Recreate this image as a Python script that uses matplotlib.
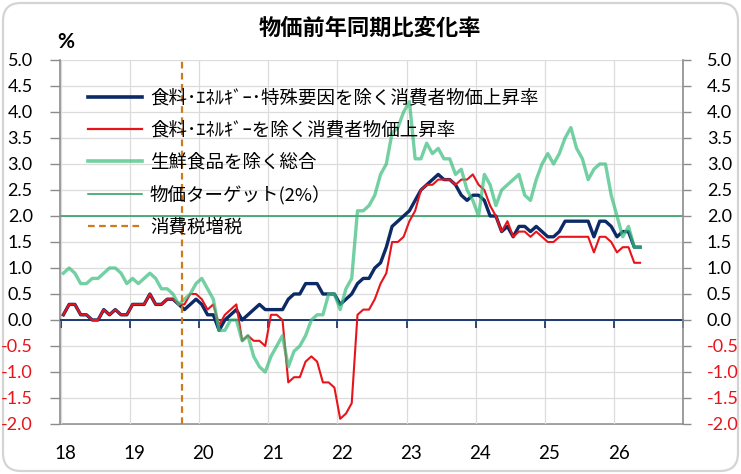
import numpy as np
import matplotlib
matplotlib.use('Agg')
import matplotlib.pyplot as plt
from matplotlib.patches import FancyBboxPatch
from matplotlib.lines import Line2D
import matplotlib.transforms as mtransforms

plt.rcParams['font.family'] = ['Noto Sans CJK JP', 'DejaVu Sans']

# ---------------- data (monthly, Jan 2018 - May 2026, y/y %) ----------------
start_year = 2018
ex_food_energy_special = [
    0.1, 0.3, 0.3, 0.1, 0.1, 0.0, 0.0, 0.2, 0.1, 0.2, 0.1, 0.1,
    0.3, 0.3, 0.3, 0.5, 0.3, 0.3, 0.4, 0.4, 0.3, 0.2, 0.3, 0.4,
    0.3, 0.1, 0.1, -0.2, 0.0, 0.1, 0.2, 0.0, 0.1, 0.2, 0.3, 0.2,
    0.2, 0.2, 0.2, 0.4, 0.5, 0.5, 0.7, 0.7, 0.7, 0.5, 0.5, 0.5,
    0.3, 0.4, 0.5, 0.7, 0.8, 0.8, 1.0, 1.1, 1.4, 1.8, 1.9, 2.0,
    2.1, 2.3, 2.5, 2.6, 2.7, 2.8, 2.7, 2.7, 2.6, 2.4, 2.3, 2.4,
    2.4, 2.3, 2.0, 2.0, 1.7, 1.8, 1.6, 1.8, 1.8, 1.7, 1.8, 1.7,
    1.6, 1.6, 1.7, 1.9, 1.9, 1.9, 1.9, 1.9, 1.6, 1.9, 1.9, 1.8,
    1.6, 1.7, 1.7, 1.4, 1.4,
]
ex_food_energy = [
    0.1, 0.3, 0.3, 0.1, 0.1, 0.0, 0.0, 0.2, 0.1, 0.2, 0.1, 0.1,
    0.3, 0.3, 0.3, 0.5, 0.3, 0.3, 0.4, 0.4, 0.3, 0.3, 0.5, 0.5,
    0.4, 0.2, 0.3, -0.1, 0.1, 0.2, 0.3, -0.4, -0.3, -0.4, -0.4, -0.5,
    0.1, 0.1, 0.0, -1.2, -1.1, -1.1, -0.8, -0.7, -0.8, -1.2, -1.2, -1.3,
    -1.9, -1.8, -1.6, 0.1, 0.2, 0.2, 0.4, 0.7, 0.9, 1.5, 1.5, 1.6,
    1.9, 2.1, 2.5, 2.6, 2.6, 2.7, 2.7, 2.7, 2.6, 2.7, 2.7, 2.8,
    2.6, 2.5, 2.2, 2.0, 1.7, 1.9, 1.6, 1.7, 1.7, 1.6, 1.7, 1.6,
    1.5, 1.5, 1.6, 1.6, 1.6, 1.6, 1.6, 1.6, 1.3, 1.6, 1.6, 1.5,
    1.3, 1.4, 1.4, 1.1, 1.1,
]
ex_fresh_food = [
    0.9, 1.0, 0.9, 0.7, 0.7, 0.8, 0.8, 0.9, 1.0, 1.0, 0.9, 0.7,
    0.8, 0.7, 0.8, 0.9, 0.8, 0.6, 0.6, 0.5, 0.3, 0.4, 0.5, 0.7,
    0.8, 0.6, 0.4, -0.2, -0.2, 0.0, 0.0, -0.4, -0.3, -0.7, -0.9, -1.0,
    -0.7, -0.5, -0.3, -0.9, -0.6, -0.5, -0.3, 0.0, 0.1, 0.1, 0.5, 0.5,
    0.2, 0.6, 0.8, 2.1, 2.1, 2.2, 2.4, 2.8, 3.0, 3.6, 3.7, 4.0,
    4.2, 3.1, 3.1, 3.4, 3.2, 3.3, 3.1, 3.1, 2.8, 2.9, 2.5, 2.3,
    2.0, 2.8, 2.6, 2.2, 2.5, 2.6, 2.7, 2.8, 2.4, 2.3, 2.7, 3.0,
    3.2, 3.0, 3.2, 3.5, 3.7, 3.3, 3.1, 2.7, 2.9, 3.0, 3.0, 2.4,
    2.0, 1.6, 1.8, 1.4, 1.4,
]
target = 2.0
tax_hike = 2019 + 9 / 12          # Oct 2019
year_labels = ['18', '19', '20', '21', '22', '23', '24', '25', '26']
y_ticks = [-2.0, -1.5, -1.0, -0.5, 0.0, 0.5, 1.0, 1.5, 2.0, 2.5, 3.0, 3.5, 4.0, 4.5, 5.0]

labels = [
    '食料･ｴﾈﾙｷﾞｰ･特殊要因を除く消費者物価上昇率',
    '食料･ｴﾈﾙｷﾞｰを除く消費者物価上昇率',
    '生鮮食品を除く総合',
    '物価ターゲット(2%）',
    '消費税増税',
]

# ---------------- styling ----------------
C_BLUE = '#0B2A66'
C_RED = '#E8141B'
C_GREEN = '#3DBE7F'
C_TARGET = '#23995A'
C_TAX = '#D07A1E'
C_GRID = '#DCDCDC'
C_SPINE = '#8C8C8C'
C_NEG = '#E8141B'
TICK_FONT = 'Lato'

n = len(ex_fresh_food)
x = start_year + (np.arange(n) + 0.5) / 12.0
years = list(range(start_year, start_year + 10))

W, H = 741, 474
fig = plt.figure(figsize=(W / 100, H / 100), dpi=100)

# rounded outer frame
frame = FancyBboxPatch((0.03, 0.03), W / 100 - 0.06, H / 100 - 0.06,
                       boxstyle='round,pad=0,rounding_size=0.18',
                       transform=fig.dpi_scale_trans, fc='white',
                       ec='#D4D4D4', lw=1.6, zorder=0)
fig.add_artist(frame)

L, R, T, B = 60.5, 683.3, 60.0, 424.0
ax = fig.add_axes([L / W, 1 - B / H, (R - L) / W, (B - T) / H])
ax.set_facecolor('none')
ax.set_xlim(years[0], years[-1])
ax.set_ylim(-2, 5)
ax.set_yticks(y_ticks)
ax.set_xticks(years)
ax.grid(True, color=C_GRID, lw=0.9, zorder=0)
ax.set_axisbelow(True)

# zero line as the x axis with ticks
ax.spines['bottom'].set_position(('data', 0))
ax.spines['bottom'].set_color(C_BLUE)
ax.spines['bottom'].set_linewidth(1.3)
ax.spines['top'].set_visible(False)
ax.spines['right'].set_visible(False)
ax.spines['left'].set_color(C_SPINE)
ax.spines['left'].set_linewidth(1.2)
ax.tick_params(axis='x', direction='out', length=6, width=1.2, color=C_BLUE,
               labelbottom=False)
ax.tick_params(axis='y', direction='out', length=7, width=1.0, color=C_SPINE,
               labelsize=13, pad=13)

# bottom labels via secondary axis
sec = ax.secondary_xaxis('bottom')
sec.set_xticks(years[:-1])
sec.set_xticklabels(year_labels)
sec.spines['bottom'].set_color(C_SPINE)
sec.spines['bottom'].set_linewidth(1.2)
sec.tick_params(axis='x', length=0, labelsize=13.5, pad=15)
off = mtransforms.ScaledTranslation(4.5 / 100, 0, fig.dpi_scale_trans)
for lbl in sec.get_xticklabels():
    lbl.set_fontfamily(TICK_FONT)
    lbl.set_transform(lbl.get_transform() + off)

ax.set_yticklabels([f'{v:.1f}' for v in y_ticks])
for lbl, v in zip(ax.get_yticklabels(), y_ticks):
    lbl.set_fontfamily(TICK_FONT)
    lbl.set_color(C_NEG if v < 0 else 'black')

# right axis
ax2 = ax.twinx()
ax2.set_ylim(-2, 5)
ax2.set_yticks(y_ticks)
ax2.set_yticklabels([f'{v:.1f}' for v in y_ticks])
for s in ['left', 'top', 'bottom']:
    ax2.spines[s].set_visible(False)
ax2.spines['right'].set_color(C_SPINE)
ax2.spines['right'].set_linewidth(1.2)
ax2.tick_params(axis='y', direction='out', length=6, width=1.0, color=C_SPINE,
                labelsize=13, pad=11)
for lbl, v in zip(ax2.get_yticklabels(), y_ticks):
    lbl.set_fontfamily(TICK_FONT)
    lbl.set_color(C_NEG if v < 0 else 'black')

# series
ax.axhline(target, color=C_TARGET, lw=1.1, zorder=2)
ax.plot(x, ex_food_energy_special, color=C_BLUE, lw=2.4, zorder=3,
        solid_joinstyle='round')
ax.plot(x, ex_food_energy, color=C_RED, lw=1.5, zorder=4,
        solid_joinstyle='round')
ax.plot(x, ex_fresh_food, color=C_GREEN, lw=2.4, alpha=0.72, zorder=5,
        solid_joinstyle='round')
ax.axvline(tax_hike, color=C_TAX, lw=1.6, ls=(0, (3, 2)), zorder=6)

handles = [
    Line2D([], [], color=C_BLUE, lw=2.6),
    Line2D([], [], color=C_RED, lw=1.6),
    Line2D([], [], color=C_GREEN, lw=2.6, alpha=0.72),
    Line2D([], [], color=C_TARGET, lw=1.1),
    Line2D([], [], color=C_TAX, lw=1.6, ls=(0, (3, 2))),
]
leg = ax.legend(handles, labels, loc='upper left',
                bbox_to_anchor=(88 / W, 1 - 89 / H), bbox_transform=fig.transFigure,
                frameon=False, borderpad=0, borderaxespad=0,
                handlelength=2.9, handletextpad=0.45, labelspacing=0.76,
                prop={'family': ['Noto Sans CJK JP', 'DejaVu Sans'], 'size': 13.3})
leg.set_zorder(10)

fig.text(370 / W, 1 - 28 / H, '物価前年同期比変化率', ha='center', va='center',
         fontsize=16, fontweight='bold')
fig.text(66 / W, 1 - 42 / H, '%', ha='center', va='center', fontsize=15,
         fontweight='bold', family=[TICK_FONT, 'DejaVu Sans'])

fig.savefig('out.png', dpi=100)
